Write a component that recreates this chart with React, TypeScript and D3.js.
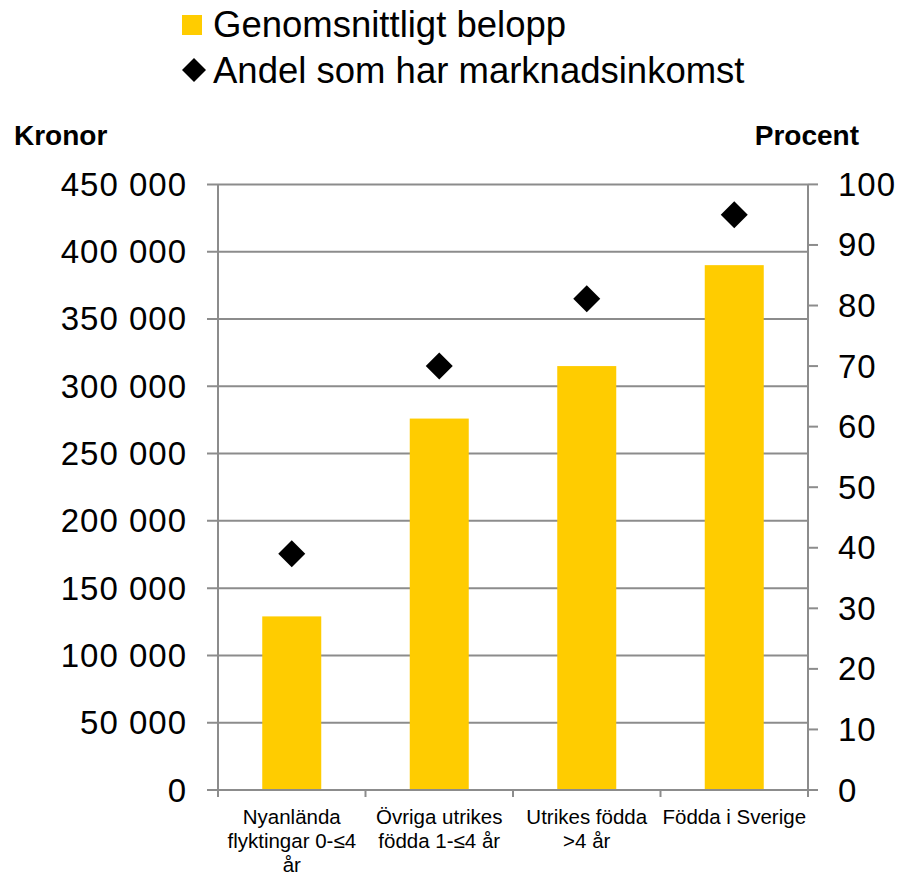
import React from "react";
import * as d3 from "d3";

const categories = [
  ["Nyanlända", "flyktingar 0-≤4", "år"],
  ["Övriga utrikes", "födda 1-≤4 år"],
  ["Utrikes födda", ">4 år"],
  ["Födda i Sverige"],
];
const amounts = [129000, 276000, 315000, 390000];
const shares = [39.0, 70.0, 81.1, 95.0];
const leftTicks = [0, 50000, 100000, 150000, 200000, 250000, 300000, 350000, 400000, 450000];
const rightTicks = [0, 10, 20, 30, 40, 50, 60, 70, 80, 90, 100];
const seriesNames = ["Genomsnittligt belopp", "Andel som har marknadsinkomst"];

const FONT = "'Liberation Sans', Arial, sans-serif";
const GRID = "#8c8c8c";
const BAR = "#FFCC00";

export default function App() {
  const W = 900, H = 875;
  const x0 = 218, x1 = 808, yTop = 184.4, yBot = 790;
  const idx = categories.map((_, i) => i);
  const x = d3.scaleBand<number>().domain(idx).range([x0, x1]).padding(0);
  const yL = d3.scaleLinear().domain([0, 450000]).range([yBot, yTop]);
  const yR = d3.scaleLinear().domain([0, 100]).range([yBot, yTop]);
  const bw = x.bandwidth() * 0.4;
  const fmt = (v: number) => d3.format(",")(v).replace(/,/g, " ");
  const diamond = (cx: number, cy: number, r: number) =>
    `M${cx},${cy - r}L${cx + r},${cy}L${cx},${cy + r}L${cx - r},${cy}Z`;

  return (
    <svg width={W} height={H} style={{ position: "absolute", left: 0, top: 0, background: "#fff" }} fontFamily={FONT}>
      {/* legend */}
      <rect x={182} y={15} width={20} height={20} fill={BAR} />
      <text x={213} y={37} fontSize={36.5} fill="#000">{seriesNames[0]}</text>
      <path d={diamond(194, 70, 12)} fill="#000" />
      <text x={213} y={83} fontSize={36.5} fill="#000">{seriesNames[1]}</text>

      {/* axis titles */}
      <text x={14} y={145} fontSize={28} fontWeight="bold" fill="#000">Kronor</text>
      <text x={859} y={145} fontSize={28} fontWeight="bold" fill="#000" textAnchor="end">Procent</text>

      {/* gridlines and left ticks */}
      {leftTicks.map((t) => (
        <g key={"l" + t}>
          <line x1={207} x2={x1} y1={yL(t)} y2={yL(t)} stroke={GRID} strokeWidth={2} />
          <text x={187} y={yL(t) + 11.5} fontSize={33} letterSpacing={1} textAnchor="end" fill="#000">{fmt(t)}</text>
        </g>
      ))}
      {/* right ticks */}
      {rightTicks.map((t) => (
        <g key={"r" + t}>
          <line x1={x1} x2={818} y1={yR(t)} y2={yR(t)} stroke={GRID} strokeWidth={2} />
          <text x={838} y={yR(t) + 11.5} fontSize={33} letterSpacing={1} fill="#000">{t}</text>
        </g>
      ))}
      {/* axes */}
      <line x1={x0} x2={x0} y1={yTop} y2={yBot + 7} stroke={GRID} strokeWidth={2} />
      <line x1={x1} x2={x1} y1={yTop} y2={yBot + 7} stroke={GRID} strokeWidth={2} />
      {idx.slice(1).map((i) => (
        <line key={"t" + i} x1={x(i)!} x2={x(i)!} y1={yBot} y2={yBot + 7} stroke={GRID} strokeWidth={2} />
      ))}

      {/* bars */}
      {amounts.map((v, i) => (
        <rect key={"b" + i} x={x(i)! + (x.bandwidth() - bw) / 2} y={yL(v)} width={bw} height={yBot - yL(v) - 1} fill={BAR} />
      ))}
      {/* diamonds */}
      {shares.map((v, i) => (
        <path key={"d" + i} d={diamond(x(i)! + x.bandwidth() / 2, yR(v), 13.5)} fill="#000" />
      ))}

      {/* x labels */}
      {categories.map((lines, i) => (
        <text key={"c" + i} textAnchor="middle" fontSize={20.5} fill="#000">
          {lines.map((ln, j) => (
            <tspan key={j} x={x(i)! + x.bandwidth() / 2} y={824 + j * 24}>{ln}</tspan>
          ))}
        </text>
      ))}
    </svg>
  );
}
